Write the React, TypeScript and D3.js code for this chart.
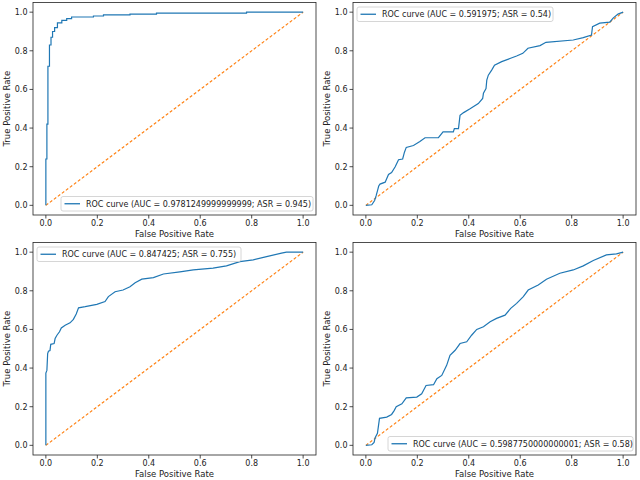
import * as d3 from "d3";

// ROC points (fpr, tpr)
const fprA = [0, 0, 0.004, 0.004, 0.008, 0.008, 0.014, 0.014, 0.02, 0.02, 0.026, 0.026, 0.034, 0.034, 0.045, 0.045, 0.062, 0.062, 0.081, 0.081, 0.1, 0.1, 0.185, 0.185, 0.224, 0.224, 0.327, 0.327, 0.43, 0.43, 0.78, 0.78, 1];
const tprA = [0, 0.24, 0.24, 0.42, 0.42, 0.72, 0.72, 0.83, 0.83, 0.87, 0.87, 0.9, 0.9, 0.92, 0.92, 0.945, 0.945, 0.957, 0.957, 0.967, 0.967, 0.975, 0.975, 0.98, 0.98, 0.986, 0.986, 0.99, 0.99, 0.995, 0.995, 1, 1];

const fprB = [0, 0.023, 0.034, 0.04, 0.045, 0.05, 0.055, 0.075, 0.088, 0.1, 0.114, 0.127, 0.143, 0.15, 0.157, 0.185, 0.21, 0.23, 0.282, 0.3, 0.34, 0.344, 0.36, 0.366, 0.38, 0.405, 0.437, 0.454, 0.457, 0.467, 0.47, 0.476, 0.489, 0.5, 0.528, 0.56, 0.586, 0.61, 0.63, 0.677, 0.7, 0.806, 0.845, 0.877, 0.881, 0.909, 0.948, 0.961, 0.98, 1];
const tprB = [0, 0.003, 0.025, 0.05, 0.075, 0.1, 0.11, 0.12, 0.16, 0.17, 0.2, 0.236, 0.24, 0.275, 0.3, 0.31, 0.33, 0.35, 0.35, 0.38, 0.38, 0.397, 0.397, 0.466, 0.48, 0.5, 0.527, 0.553, 0.58, 0.605, 0.648, 0.674, 0.7, 0.726, 0.744, 0.76, 0.773, 0.787, 0.813, 0.827, 0.844, 0.856, 0.868, 0.882, 0.925, 0.943, 0.948, 0.969, 0.99, 1];

const fprC = [0, 0, 0.004, 0.007, 0.01, 0.016, 0.019, 0.032, 0.036, 0.043, 0.053, 0.06, 0.075, 0.094, 0.107, 0.118, 0.127, 0.153, 0.198, 0.23, 0.243, 0.269, 0.3, 0.327, 0.347, 0.373, 0.418, 0.457, 0.521, 0.573, 0.65, 0.702, 0.754, 0.806, 0.858, 0.916, 0.935, 1];
const tprC = [0, 0.374, 0.388, 0.475, 0.487, 0.49, 0.523, 0.527, 0.553, 0.57, 0.588, 0.608, 0.622, 0.634, 0.652, 0.68, 0.712, 0.718, 0.73, 0.744, 0.77, 0.795, 0.804, 0.821, 0.842, 0.86, 0.868, 0.887, 0.898, 0.908, 0.917, 0.929, 0.951, 0.96, 0.977, 0.995, 1, 1];

const fprD = [0, 0.023, 0.032, 0.036, 0.045, 0.053, 0.081, 0.1, 0.11, 0.118, 0.14, 0.157, 0.198, 0.217, 0.234, 0.263, 0.276, 0.295, 0.314, 0.327, 0.347, 0.366, 0.392, 0.411, 0.431, 0.457, 0.483, 0.508, 0.541, 0.563, 0.586, 0.612, 0.631, 0.67, 0.702, 0.754, 0.806, 0.845, 0.884, 0.935, 0.974, 1];
const tprD = [0, 0.003, 0.015, 0.04, 0.062, 0.14, 0.146, 0.16, 0.18, 0.2, 0.215, 0.246, 0.25, 0.267, 0.31, 0.314, 0.345, 0.362, 0.414, 0.466, 0.492, 0.527, 0.536, 0.57, 0.6, 0.614, 0.64, 0.657, 0.674, 0.709, 0.735, 0.77, 0.804, 0.83, 0.86, 0.891, 0.908, 0.929, 0.957, 0.986, 0.991, 1];

const labels = [
  "ROC curve (AUC = 0.9781249999999999; ASR = 0.945)",
  "ROC curve (AUC = 0.591975; ASR = 0.54)",
  "ROC curve (AUC = 0.847425; ASR = 0.755)",
  "ROC curve (AUC = 0.5987750000000001; ASR = 0.58)",
];
const ticks = [0, 0.2, 0.4, 0.6, 0.8, 1.0];

const W = 320;
const H = 240;
const font = "DejaVu Sans, sans-serif";

type PanelProps = {
  ox: number;
  oy: number;
  fpr: number[];
  tpr: number[];
  label: string;
  legend: { x: number; y: number; w: number };
};

function Panel({ ox, oy, fpr, tpr, label, legend }: PanelProps) {
  const x = d3.scaleLinear().domain([-0.05, 1.05]).range([33, 316]);
  const y = d3.scaleLinear().domain([-0.05, 1.05]).range([215, 2.5]);
  const pts = fpr.map((f, i) => [f, tpr[i]] as [number, number]);
  const line = d3.line<[number, number]>().x((d) => x(d[0])).y((d) => y(d[1]));
  const diag = line([[0, 0], [1, 1]]) || "";

  return (
    <g transform={`translate(${ox},${oy})`} fontFamily={font}>
      <path d={diag} fill="none" stroke="#ff7f0e" strokeWidth={1.1} strokeDasharray="3,2" />
      <path d={line(pts) || ""} fill="none" stroke="#1f77b4" strokeWidth={1.2} strokeLinejoin="miter" />
      <rect x={33} y={2.5} width={283} height={212.5} fill="none" stroke="#222" strokeWidth={0.8} />
      {ticks.map((t) => (
        <g key={"x" + t}>
          <line x1={x(t)} x2={x(t)} y1={215} y2={218.5} stroke="#222" strokeWidth={0.8} />
          <text x={x(t)} y={226} textAnchor="middle" fontSize={8} fill="#222">{t.toFixed(1)}</text>
        </g>
      ))}
      {ticks.map((t) => (
        <g key={"y" + t}>
          <line x1={29.5} x2={33} y1={y(t)} y2={y(t)} stroke="#222" strokeWidth={0.8} />
          <text x={27.5} y={y(t) + 3} textAnchor="end" fontSize={8} fill="#222">{t.toFixed(1)}</text>
        </g>
      ))}
      <text x={174.5} y={237} textAnchor="middle" fontSize={8.5} fill="#222">False Positive Rate</text>
      <text transform={`translate(10,${y(0.5)}) rotate(-90)`} textAnchor="middle" fontSize={8.5} fill="#222">True Positive Rate</text>
      <rect x={legend.x} y={legend.y} width={legend.w} height={14.5} rx={2} fill="#fff" fillOpacity={0.8} stroke="#ccc" strokeWidth={0.8} />
      <line x1={legend.x + 3.5} x2={legend.x + 19} y1={legend.y + 7.25} y2={legend.y + 7.25} stroke="#1f77b4" strokeWidth={1.3} />
      <text x={legend.x + 25} y={legend.y + 10.2} fontSize={8} fill="#222">{label}</text>
    </g>
  );
}

export default function App() {
  return (
    <svg width={640} height={480} style={{ position: "absolute", left: 0, top: 0, background: "#fff" }}>
      <rect width={640} height={480} fill="#fff" />
      <Panel ox={0} oy={0} fpr={fprA} tpr={tprA} label={labels[0]} legend={{ x: 61, y: 196.5, w: 252 }} />
      <Panel ox={W} oy={0} fpr={fprB} tpr={tprB} label={labels[1]} legend={{ x: 37, y: 7, w: 196 }} />
      <Panel ox={0} oy={H} fpr={fprC} tpr={tprC} label={labels[2]} legend={{ x: 37, y: 7, w: 204 }} />
      <Panel ox={W} oy={H} fpr={fprD} tpr={tprD} label={labels[3]} legend={{ x: 68, y: 196.5, w: 245 }} />
    </svg>
  );
}
